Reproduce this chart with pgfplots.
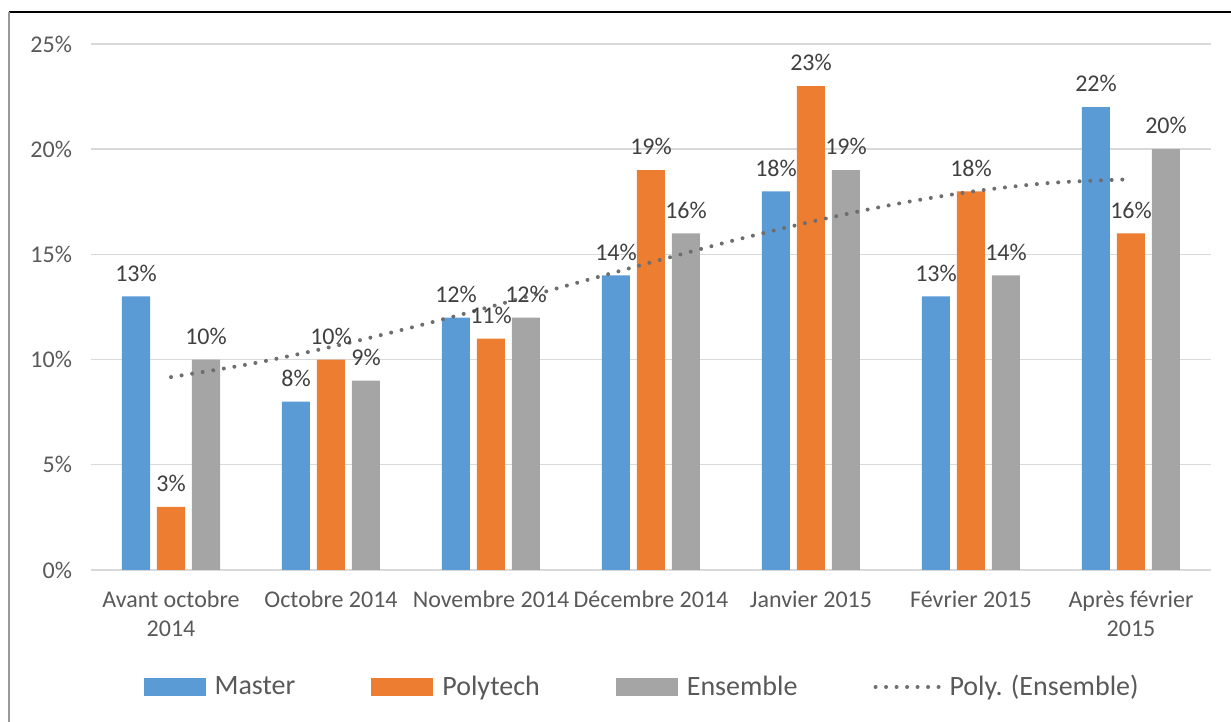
\documentclass[border=0pt]{standalone}
\usepackage{pgfplots}
\pgfplotsset{compat=1.18}
\usepackage{fontspec}
\setmainfont{Carlito}
\definecolor{mblue}{HTML}{5B9BD5}
\definecolor{morange}{HTML}{ED7D31}
\definecolor{mgray}{HTML}{A5A5A5}
\definecolor{gridc}{HTML}{D9D9D9}
\definecolor{txtc}{HTML}{595959}
\definecolor{lblc}{HTML}{404040}
\definecolor{trendc}{HTML}{6E6E6E}
\begin{document}
\begin{tikzpicture}
\begin{axis}[
  at={(0pt,0pt)}, anchor=south west,
  scale only axis, width=560pt, height=263pt,
  xmin=-0.5, xmax=6.5, ymin=0, ymax=25,
  axis line style={draw=none},
  major tick length=0pt,
  ymajorgrids, major grid style={gridc, line width=0.7pt},
  ytick={0,5,10,15,20,25},
  yticklabels={0\%,5\%,10\%,15\%,20\%,25\%},
  yticklabel style={font=\fontsize{12}{14}\selectfont, text=txtc, xshift=-6pt},
  xtick={0,1,2,3,4,5,6},
  xticklabels={{Avant octobre\\2014},{Octobre 2014},{Novembre 2014},{Décembre 2014},{Janvier 2015},{Février 2015},{Après février\\2015}},
  xticklabel style={font=\fontsize{12}{14.5}\selectfont, text=txtc, align=center, anchor=north, yshift=-7pt},
  /pgf/number format/assume math mode=true,
  clip=false,
  legend columns=4,
  legend style={at={(axis description cs:0.493,-0.2224)}, anchor=center, draw=none, fill=none,
    font=\fontsize{14}{16}\selectfont, text=txtc,
    /tikz/every odd column/.append style={column sep=2.5pt},
    /tikz/every even column/.append style={column sep=36pt}},
  every node near coord/.append style={font=\fontsize{12}{14}\selectfont, text=lblc, yshift=4pt},
]
\addplot[ybar, bar width=14pt, bar shift=0pt, fill=mblue, draw=none,
  nodes near coords={\pgfmathprintnumber{\pgfplotspointmeta}\%},
  legend image code/.code={\fill[mblue] (0pt,-4.5pt) rectangle (31pt,4.5pt);}]
  coordinates {(-0.21875,13) (0.78125,8) (1.78125,12) (2.78125,14) (3.78125,18) (4.78125,13) (5.78125,22)};
\addlegendentry{Master}
\addplot[ybar, bar width=14pt, bar shift=0pt, fill=morange, draw=none,
  nodes near coords={\pgfmathprintnumber{\pgfplotspointmeta}\%},
  legend image code/.code={\fill[morange] (0pt,-4.5pt) rectangle (31pt,4.5pt);}]
  coordinates {(0,3) (1,10) (2,11) (3,19) (4,23) (5,18) (6,16)};
\addlegendentry{Polytech}
\addplot[ybar, bar width=14pt, bar shift=0pt, fill=mgray, draw=none,
  nodes near coords={\pgfmathprintnumber{\pgfplotspointmeta}\%},
  legend image code/.code={\fill[mgray] (0pt,-4.5pt) rectangle (31pt,4.5pt);}]
  coordinates {(0.21875,10) (1.21875,9) (2.21875,12) (3.21875,16) (4.21875,19) (5.21875,14) (6.21875,20)};
\addlegendentry{Ensemble}
\addplot[smooth, trendc, line width=2pt, line cap=round, dash pattern=on 0pt off 5.35pt,
  legend image code/.code={\draw[trendc, line width=2pt, line cap=round, dash pattern=on 0pt off 5.25pt] (0pt,0pt) -- (31.5pt,0pt);}]
  coordinates {(0,9.17) (0.5,9.80) (1,10.60) (1.5,11.52) (2,12.52) (2.5,13.57) (3,14.62) (3.5,15.63) (4,16.55) (4.5,17.35) (5,17.98) (5.5,18.40) (6,18.57)};
\addlegendentry{Poly. (Ensemble)}
\end{axis}
\draw[black, line width=0.8pt] (-41pt,279pt) -- (570pt,279pt);
\draw[black!40, line width=1pt] (-41pt,279pt) -- (-41pt,-76pt);
\pgfresetboundingbox
\path[use as bounding box] (-45.5pt,-76pt) rectangle (570pt,285pt);
\end{tikzpicture}
\end{document}
